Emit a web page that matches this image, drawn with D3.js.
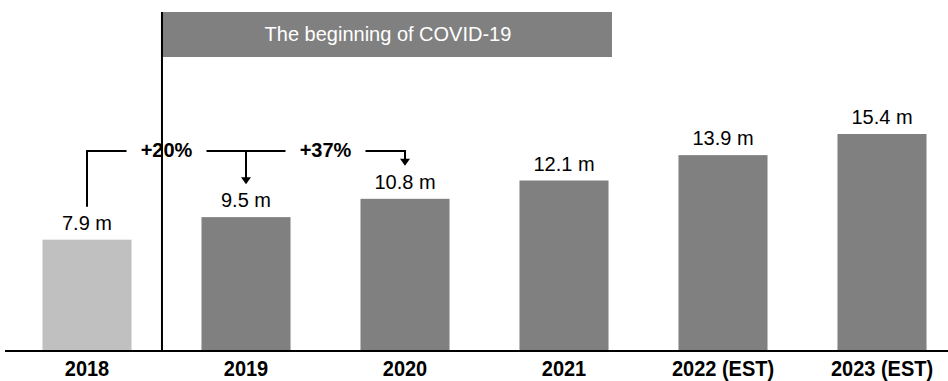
<!DOCTYPE html>
<html>
<head>
<meta charset="utf-8">
<script src="https://cdn.jsdelivr.net/npm/d3@7/dist/d3.min.js"></script>
<style>
  html, body { margin: 0; padding: 0; background: #fff; }
  svg { display: block; font-family: "Liberation Sans", Arial, sans-serif; }
</style>
</head>
<body>
<svg id="chart" width="948" height="381"></svg>
<script>
const categories = ["2018", "2019", "2020", "2021", "2022 (EST)", "2023 (EST)"];
const values = [7.9, 9.5, 10.8, 12.1, 13.9, 15.4];
const valueLabels = ["7.9 m", "9.5 m", "10.8 m", "12.1 m", "13.9 m", "15.4 m"];
const growth = [
  { from: "2018", to: "2019", label: "+20%" },
  { from: "2019", to: "2020", label: "+37%" }
];
const covidTitle = "The beginning of COVID-19";
const covidStart = "2019";

const svg = d3.select("#chart");
const baseY = 351;

const x = d3.scaleBand().domain(categories).range([7.5, 961.5]).paddingInner(0.44).paddingOuter(0.22);
const y = d3.scaleLinear().domain([0, 15.4]).range([baseY, 134]);
const cx = c => x(c) + x.bandwidth() / 2;
const valOf = c => values[categories.indexOf(c)];

// bars
svg.append("g").selectAll("rect").data(categories).join("rect")
  .attr("x", d => x(d))
  .attr("width", x.bandwidth())
  .attr("y", d => y(valOf(d)))
  .attr("height", d => baseY - y(valOf(d)))
  .attr("fill", (d, i) => i === 0 ? "#c0c0c0" : "#808080");

// value labels
svg.append("g").selectAll("text").data(categories).join("text")
  .attr("x", d => cx(d))
  .attr("y", d => y(valOf(d)) - 10)
  .attr("text-anchor", "middle")
  .attr("font-size", 20)
  .attr("fill", "#000")
  .text((d, i) => valueLabels[i]);

// x axis
const xAxis = d3.axisBottom(x).tickSize(0).tickPadding(0);
const gx = svg.append("g").attr("transform", `translate(0,${baseY})`).call(xAxis);
gx.select(".domain").remove();
gx.selectAll("text")
  .attr("font-size", 20).attr("font-weight", "bold").attr("fill", "#000")
  .attr("font-family", "Liberation Sans, Arial, sans-serif")
  .attr("dy", null).attr("y", 0)
  .attr("transform", "translate(0,25) scale(1,1.12)");
svg.append("line").attr("x1", 5).attr("x2", 948).attr("y1", baseY).attr("y2", baseY)
  .attr("stroke", "#000").attr("stroke-width", 2);

// growth brackets
const bracketY = 151;
const g = svg.append("g");
growth.forEach((gr, i) => {
  const x1 = cx(gr.from), x2 = cx(gr.to);
  const mid = (x1 + x2) / 2;
  const tipY = y(valOf(gr.to)) - 33;
  const path = d3.path();
  if (i === 0) {
    path.moveTo(x1, y(valOf(gr.from)) - 33);
    path.lineTo(x1, bracketY);
  } else {
    path.moveTo(x1, bracketY);
  }
  path.lineTo(mid - 40, bracketY);
  path.moveTo(mid + 40, bracketY);
  path.lineTo(x2, bracketY);
  path.lineTo(x2, tipY - 6);
  g.append("path").attr("d", path.toString()).attr("fill", "none")
    .attr("stroke", "#000").attr("stroke-width", 2);
  g.append("path")
    .attr("d", `M${x2 - 5},${tipY - 7} L${x2 + 5},${tipY - 7} L${x2},${tipY} Z`)
    .attr("fill", "#000");
  g.append("text").attr("x", mid).attr("y", bracketY + 6)
    .attr("text-anchor", "middle").attr("font-size", 20).attr("font-weight", "bold")
    .attr("fill", "#000").text(gr.label);
});

// COVID marker
const lineX = x(covidStart) - 39.5;
svg.append("rect").attr("x", lineX).attr("y", 12).attr("width", 450).attr("height", 45)
  .attr("fill", "#808080");
svg.append("text").attr("x", lineX + 226).attr("y", 41).attr("text-anchor", "middle")
  .attr("font-size", 20).attr("fill", "#fff").text(covidTitle);
svg.append("line").attr("x1", lineX).attr("x2", lineX).attr("y1", 12).attr("y2", baseY)
  .attr("stroke", "#000").attr("stroke-width", 2);
</script>
</body>
</html>
